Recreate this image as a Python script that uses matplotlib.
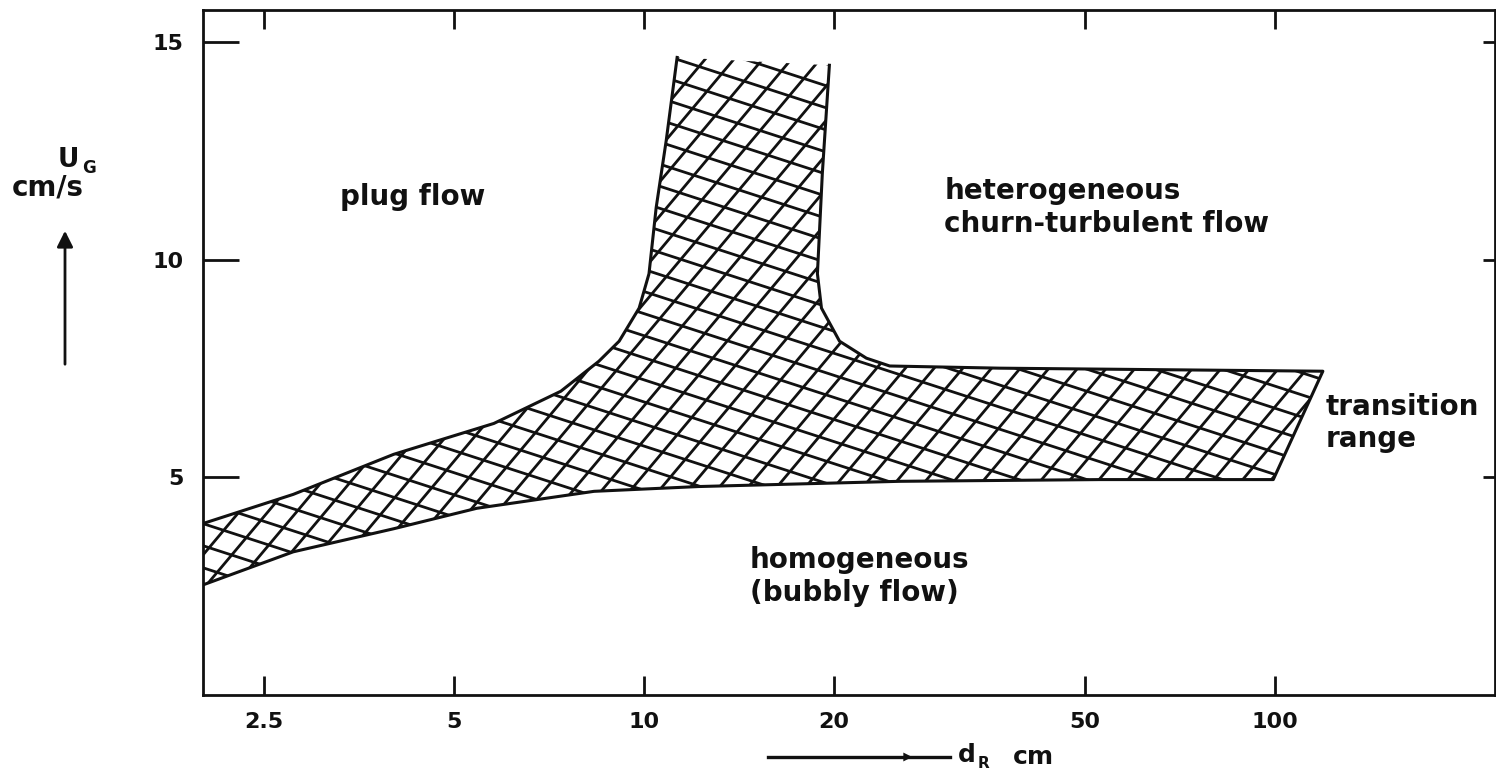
import numpy as np
import matplotlib
matplotlib.use("Agg")
import matplotlib.pyplot as plt
from matplotlib.patches import Polygon, FancyArrowPatch
from matplotlib.collections import LineCollection
from matplotlib.lines import Line2D

# ---- data -------------------------------------------------------------------
# upper-left edge of the transition band, from the left axis up the neck
upper_left_x = [2.0, 2.78, 4.01, 5.78, 7.38, 8.48, 9.13, 9.82, 10.18, 10.45, 10.84, 11.28]
upper_left_y = [3.94, 4.61, 5.53, 6.24, 6.98, 7.67, 8.13, 8.89, 9.68, 11.2, 12.74, 14.65]
# right edge of the neck, then the upper edge to the right end
upper_right_x = [19.66, 19.16, 18.82, 19.1, 20.4, 22.5, 24.5, 36.6, 119.0]
upper_right_y = [14.47, 11.98, 9.68, 8.89, 8.13, 7.74, 7.56, 7.51, 7.44]
# lower edge, right to left
lower_x = [99.3, 52.8, 25.4, 12.2, 8.33, 5.43, 4.01, 2.78, 2.0]
lower_y = [4.95, 4.95, 4.91, 4.79, 4.68, 4.29, 3.82, 3.29, 2.53]

xticks = [2.5, 5, 10, 20, 50, 100]
xticklabels = ["2.5", "5", "10", "20", "50", "100"]
yticks = [5, 10, 15]

W, H = 1496, 778
FONT = "DejaVu Sans"
INK = "#111111"

fig = plt.figure(figsize=(W / 100, H / 100), dpi=100)
ax = fig.add_axes([203 / W, 1 - 695 / H, (1495 - 203) / W, (695 - 10) / H])
ax.set_xscale("log")
ax.set_xlim(2.0, 223)
ax.set_ylim(0, 15.74)

# ---- band outline + clip polygon ------------------------------------------
poly_x = upper_left_x + upper_right_x + lower_x
poly_y = upper_left_y + upper_right_y + lower_y
band = Polygon(np.column_stack([poly_x, poly_y]), closed=True,
               facecolor="white", edgecolor="none", zorder=1)
ax.add_patch(band)

# cross hatching, drawn in axes pixels and clipped to the band
aw, ah = 1292.0, 685.0
segs = []
for ang, step in [(50, 22.0), (-18, 21.0)]:
    th = np.deg2rad(ang)
    d = np.array([np.cos(th), np.sin(th)])
    n = np.array([-np.sin(th), np.cos(th)])
    L = 3000
    for c in np.arange(-2000, 2000, step):
        p0 = c * n - L * d
        p1 = c * n + L * d
        segs.append([(p0[0] / aw, p0[1] / ah), (p1[0] / aw, p1[1] / ah)])
lc = LineCollection(segs, colors=INK, linewidths=2.0, transform=ax.transAxes, zorder=2)
ax.add_collection(lc)
lc.set_clip_path(band)

# outline: left/upper edge (open at the top of the neck), right edge, lower edge
ax.plot(upper_left_x, upper_left_y, color=INK, lw=2.2, zorder=3)
ax.plot(upper_right_x + lower_x, upper_right_y + lower_y, color=INK, lw=2.2, zorder=3)

# ---- axes styling ------------------------------------------------------------
for s in ax.spines.values():
    s.set_linewidth(2.0)
    s.set_color(INK)
ax.set_xticks(xticks)
ax.set_xticklabels(xticklabels)
ax.xaxis.set_minor_locator(matplotlib.ticker.NullLocator())
ax.set_yticks(yticks)
ax.tick_params(axis="x", direction="in", length=14, width=2, top=True, pad=12,
               labelsize=16, colors=INK)
ax.tick_params(axis="y", direction="in", length=26, width=2, right=True, pad=14,
               labelsize=16, colors=INK)
for t in ax.yaxis.get_major_ticks():
    t.tick2line.set_markersize(9)
for lab in ax.get_xticklabels() + ax.get_yticklabels():
    lab.set_fontweight("bold")
    lab.set_fontfamily(FONT)

# ---- region labels -------------------------------------------------------------
tk = dict(fontsize=20, fontweight="bold", family=FONT, color=INK, linespacing=1.2)
ax.text(4.3, 11.45, "plug flow", ha="center", va="center", **tk)
ax.text(29.9, 11.2, "heterogeneous\nchurn-turbulent flow", ha="left", va="center", **tk)
ax.text(120, 6.25, "transition\nrange", ha="left", va="center", **tk)
ax.text(14.7, 2.72, "homogeneous\n(bubbly flow)", ha="left", va="center", **tk)

# ---- axis captions with arrows -----------------------------------------------
def fx(px):
    return px / W

def fy(py):
    return 1 - py / H

fig.text(fx(58), fy(160), "U", fontsize=19, fontweight="bold", family=FONT,
         color=INK, ha="left", va="center")
fig.text(fx(82), fy(168), "G", fontsize=12, fontweight="bold", family=FONT,
         color=INK, ha="left", va="center")
fig.text(fx(12), fy(188), "cm/s", fontsize=20, fontweight="bold", family=FONT,
         color=INK, ha="left", va="center")
fig.add_artist(FancyArrowPatch(
    (fx(65), fy(367)), (fx(65), fy(228)), transform=fig.transFigure,
    arrowstyle="-|>", mutation_scale=24, lw=2, color=INK))

fig.add_artist(Line2D([fx(768), fx(950)], [fy(757), fy(757)],
               transform=fig.transFigure, lw=2.4, color=INK))
fig.add_artist(FancyArrowPatch(
    (fx(860), fy(757)), (fx(915), fy(757)), transform=fig.transFigure,
    arrowstyle="-|>", mutation_scale=16, lw=0, color=INK))
fig.text(fx(958), fy(755), "d", fontsize=18, fontweight="bold", family=FONT,
         color=INK, ha="left", va="center")
fig.text(fx(978), fy(764), "R", fontsize=11, fontweight="bold", family=FONT,
         color=INK, ha="left", va="center")
fig.text(fx(1013), fy(757), "cm", fontsize=18, fontweight="bold", family=FONT,
         color=INK, ha="left", va="center")

fig.savefig("out.png", dpi=100)
